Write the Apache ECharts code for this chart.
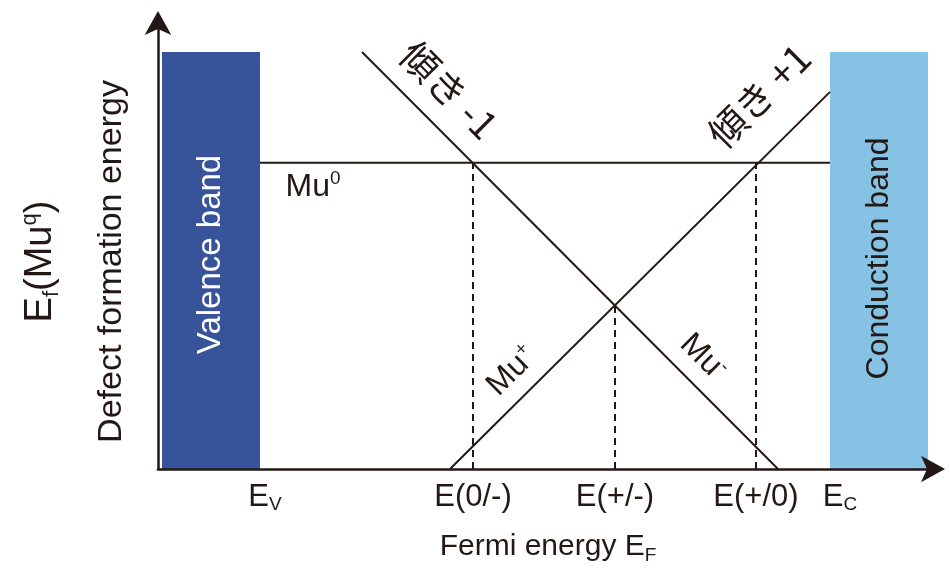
<!DOCTYPE html>
<html>
<head>
<meta charset="utf-8">
<script src="https://cdn.jsdelivr.net/npm/echarts@6/dist/echarts.min.js"></script>
<style>
  html, body { margin: 0; padding: 0; background: #fff; }
  #chart { width: 950px; height: 570px; }
</style>
</head>
<body>
<div id="chart"></div>
<script>
// schematic energy scale (arbitrary units), x = Fermi energy, y = formation energy
const tickValues = [1.07, 3.15, 4.57, 5.98, 6.82];
const tickLabels = ['{e|E}{sub|V}', '{e|E(0/-)}', '{e|E(+/-)}', '{e|E(+/0)}', '{e|E}{sub|C}'];

const valenceBand = [0.04, 1.02, 4.18];     // x0, x1, top
const conductionBand = [6.72, 7.70, 4.18];
const mu0Line = [[1.02, 3.07], [6.72, 3.07]];
const muMinusLine = [[2.04, 4.18], [6.20, 0]];
const muPlusLine = [[2.92, 0], [6.72, 3.78]];
const levelX = [3.15, 4.57, 5.98];          // E(0/-), E(+/-), E(+/0)
const levelTop = [3.07, 1.65, 3.07];

// text labels: [text, x, y, rotate]
const notes = [
  ['{w|Valence band}', 0.53, 2.15, 90],
  ['{t|Conduction band}', 7.21, 2.11, 90],
  ['{t|Mu}{sup|0}', 1.55, 2.82, 0],
  ['{j|傾き -1}', 2.91, 3.80, -45],
  ['{j|傾き +1}', 6.01, 3.74, 45],
  ['{t|Mu}{sup|+}', 3.54, 0.98, 45],
  ['{t|Mu}{sup|-}', 5.45, 1.12, -45]
];

const INK = '#231815';
const FONT = '"Liberation Sans", Arial, "Noto Sans CJK JP", sans-serif';
const bandColors = ['#37539a', '#86c2e3'];

const chart = echarts.init(document.getElementById('chart'));

const line = (data) => ({
  type: 'line',
  data: data,
  symbol: 'none',
  silent: true,
  lineStyle: {color: INK, width: 2},
  z: 3
});

const arrowLine = {
  lineStyle: {color: INK, width: 2.5},
  symbol: ['none', 'arrow'],
  symbolSize: [20, 24],
  symbolOffset: [0, 7]
};

chart.setOption({
  animation: false,
  grid: {left: 158, right: 12, top: 18, bottom: 100},
  xAxis: {
    type: 'value',
    min: 0,
    max: 7.8,
    z: 10,
    splitLine: {show: false},
    axisTick: {show: false},
    axisLine: arrowLine,
    axisLabel: {
      customValues: tickValues,
      margin: 11,
      formatter: (v) => {
        const i = tickValues.findIndex(t => Math.abs(t - v) < 1e-6);
        return i < 0 ? '' : tickLabels[i];
      },
      rich: {
        e: {fontSize: 31, lineHeight: 34, color: INK, fontFamily: FONT},
        sub: {fontSize: 19, lineHeight: 10, verticalAlign: 'bottom', color: INK, fontFamily: FONT}
      }
    },
    name: '{n|Fermi energy E}{sub|F}',
    nameLocation: 'middle',
    nameGap: 60,
    nameTextStyle: {
      rich: {
        n: {fontSize: 30, lineHeight: 36, color: INK, fontFamily: FONT},
        sub: {fontSize: 19, lineHeight: 12, verticalAlign: 'bottom', color: INK, fontFamily: FONT}
      }
    }
  },
  yAxis: {
    type: 'value',
    min: 0,
    max: 4.52,
    z: 10,
    splitLine: {show: false},
    axisTick: {show: false},
    axisLabel: {show: false},
    axisLine: arrowLine,
    name: '{E|E}{s|f}{E|(Mu}{p|q}{E|)}\n{d|Defect formation energy}',
    nameLocation: 'middle',
    nameRotate: 90,
    nameGap: -3,
    nameTextStyle: {
      padding: [0, 36, 0, 0],
      rich: {
        E: {fontSize: 38, lineHeight: 44, color: INK, fontFamily: FONT},
        s: {fontSize: 22, lineHeight: 12, verticalAlign: 'bottom', color: INK, fontFamily: FONT},
        p: {fontSize: 22, lineHeight: 14, verticalAlign: 'top', color: INK, fontFamily: FONT},
        d: {fontSize: 34, lineHeight: 98, color: INK, fontFamily: FONT}
      }
    }
  },
  series: [
    {
      type: 'custom',
      silent: true,
      z: 1,
      renderItem: (params, api) => {
        const p0 = api.coord([api.value(0), api.value(2)]);
        const p1 = api.coord([api.value(1), 0]);
        return {
          type: 'rect',
          shape: {x: p0[0], y: p0[1], width: p1[0] - p0[0], height: p1[1] - p0[1]},
          style: {fill: bandColors[params.dataIndex]}
        };
      },
      data: [valenceBand, conductionBand]
    },
    line(mu0Line),
    line(muMinusLine),
    line(muPlusLine),
    {
      type: 'line',
      data: [],
      markLine: {
        silent: true,
        symbol: ['none', 'none'],
        label: {show: false},
        lineStyle: {color: INK, width: 2, type: [7, 5]},
        data: levelX.map((x, i) => [{coord: [x, 0]}, {coord: [x, levelTop[i]]}])
      }
    },
    {
      type: 'scatter',
      symbolSize: 0,
      silent: true,
      z: 5,
      itemStyle: {opacity: 1},
      data: notes.map(n => ({
        value: [n[1], n[2]],
        label: {formatter: n[0], rotate: n[3]}
      })),
      label: {
        show: true,
        position: 'inside',
        rich: {
          w: {fontSize: 33, color: '#fff', fontFamily: FONT},
          t: {fontSize: 32, lineHeight: 36, color: INK, fontFamily: FONT},
          sup: {fontSize: 19, lineHeight: 10, verticalAlign: 'top', color: INK, fontFamily: FONT},
          j: {fontSize: 38, color: INK, fontFamily: '"Noto Sans CJK JP", sans-serif'}
        }
      }
    }
  ]
});
</script>
</body>
</html>
